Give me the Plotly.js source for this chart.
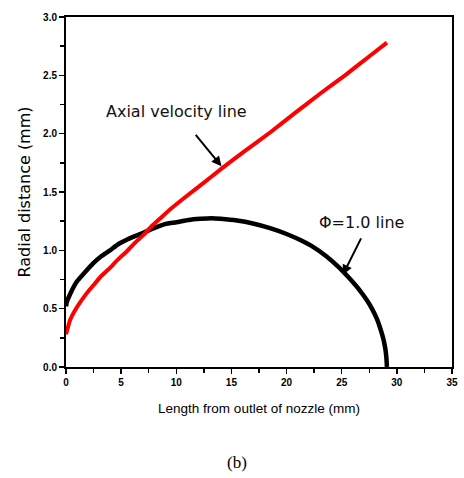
<!DOCTYPE html>
<html>
<head>
<meta charset="utf-8">
<script src="https://cdn.plot.ly/plotly-3.0.1.min.js"></script>
<style>html,body{margin:0;padding:0;background:#fff;}#chart{width:464px;height:478px;}</style>
</head>
<body>
<div id="chart"></div>
<script>
// Φ=1.0 line (black)
const phiX = [0, 0.05, 0.4, 0.97, 1.7, 2.48, 3.2, 3.99, 4.7, 5.5, 6.2, 7.0, 7.7, 8.5, 9.2, 10.0, 11.1, 12.2, 13.2, 14.0, 15.5, 16.95, 18.5, 20.0, 21.2, 22.4, 23.6, 24.8, 25.7, 26.65, 27.3, 27.8, 28.2, 28.5, 28.75, 28.95, 29.05, 29.1];
const phiY = [0.52, 0.55, 0.63, 0.73, 0.81, 0.89, 0.95, 1.00, 1.05, 1.09, 1.12, 1.15, 1.18, 1.21, 1.23, 1.24, 1.26, 1.27, 1.275, 1.27, 1.255, 1.23, 1.19, 1.14, 1.09, 1.03, 0.95, 0.85, 0.76, 0.655, 0.57, 0.49, 0.41, 0.33, 0.25, 0.16, 0.08, 0.0];

// Axial velocity line (red)
const axialX = [0, 0.36, 0.97, 1.7, 2.48, 3.2, 3.99, 4.7, 5.5, 6.2, 7.0, 7.7, 8.5, 9.43, 11.0, 12.5, 13.96, 16.2, 18.5, 20.8, 23.0, 25.3, 27.6, 29.1];
const axialY = [0.28, 0.40, 0.51, 0.61, 0.70, 0.78, 0.85, 0.92, 0.99, 1.06, 1.13, 1.20, 1.27, 1.35, 1.47, 1.58, 1.69, 1.85, 2.01, 2.18, 2.34, 2.50, 2.67, 2.78];

const xTicks = [0, 5, 10, 15, 20, 25, 30, 35];
const yTicks = [0.0, 0.5, 1.0, 1.5, 2.0, 2.5, 3.0];
const yTickText = ['0.0', '0.5', '1.0', '1.5', '2.0', '2.5', '3.0'];

const traces = [
  {x: phiX, y: phiY, mode: 'lines', type: 'scatter', line: {color: '#000000', width: 4.5, shape: 'spline', smoothing: 0.3}, hoverinfo: 'skip'},
  {x: axialX, y: axialY, mode: 'lines', type: 'scatter', line: {color: '#ff0000', width: 4, shape: 'spline', smoothing: 0.3}, hoverinfo: 'skip'}
];

const tickFont = {family: 'Liberation Sans, Arial, sans-serif', size: 10, color: '#000', weight: 'bold'};
const xTitleFont = {family: 'Liberation Sans, Arial, sans-serif', size: 13.5, color: '#000'};
const yTitleFont = {family: 'DejaVu Sans, sans-serif', size: 16, color: '#000'};
const annFont = {family: 'DejaVu Sans, sans-serif', size: 16, color: '#111'};

const layout = {
  width: 464, height: 478,
  margin: {l: 66, r: 12, t: 17, b: 111},
  paper_bgcolor: '#fff', plot_bgcolor: '#fff',
  showlegend: false,
  xaxis: {
    range: [0, 35], tickvals: xTicks, ticktext: xTicks.map(String),
    showgrid: false, zeroline: false,
    showline: true, linecolor: '#000', linewidth: 2, mirror: true,
    ticks: 'outside', ticklen: 5, tickwidth: 1.5, tickcolor: '#000',
    minor: {dtick: 2.5, ticks: 'outside', ticklen: 4, tickwidth: 1.5, tickcolor: '#000', showgrid: false},
    tickfont: tickFont,
    title: {text: 'Length from outlet of nozzle (mm)', font: xTitleFont, standoff: 17},
    automargin: false, fixedrange: true
  },
  yaxis: {
    range: [0, 3], tickvals: yTicks, ticktext: yTickText,
    showgrid: false, zeroline: false,
    showline: true, linecolor: '#000', linewidth: 2, mirror: true,
    ticks: 'outside', ticklen: 5, tickwidth: 1.5, tickcolor: '#000',
    minor: {dtick: 0.25, ticks: 'outside', ticklen: 4, tickwidth: 1.5, tickcolor: '#000', showgrid: false},
    tickfont: tickFont,
    title: {text: 'Radial distance (mm)', font: yTitleFont, standoff: 8},
    automargin: false, fixedrange: true
  },
  annotations: [
    {x: 10.06, y: 2.19, xref: 'x', yref: 'y', text: 'Axial velocity line', showarrow: false, font: annFont, xanchor: 'center', yanchor: 'middle'},
    {x: 14.1, y: 1.72, xref: 'x', yref: 'y', text: '', showarrow: true, arrowhead: 2, arrowsize: 1, arrowwidth: 2, arrowcolor: '#000', ax: -27, ay: -33},
    {x: 26.8, y: 1.24, xref: 'x', yref: 'y', text: 'Φ=1.0 line', showarrow: false, font: annFont, xanchor: 'center', yanchor: 'middle'},
    {x: 25.1, y: 0.79, xref: 'x', yref: 'y', text: '', showarrow: true, arrowhead: 2, arrowsize: 1, arrowwidth: 2, arrowcolor: '#000', ax: 19, ay: -38},
    {x: 0.443, y: -0.274, xref: 'paper', yref: 'paper', text: '(b)', showarrow: false, font: {family: 'Liberation Serif, Times New Roman, serif', size: 17, color: '#000'}, xanchor: 'center', yanchor: 'middle'}
  ]
};

Plotly.newPlot('chart', traces, layout, {displayModeBar: false, staticPlot: true});
</script>
</body>
</html>
